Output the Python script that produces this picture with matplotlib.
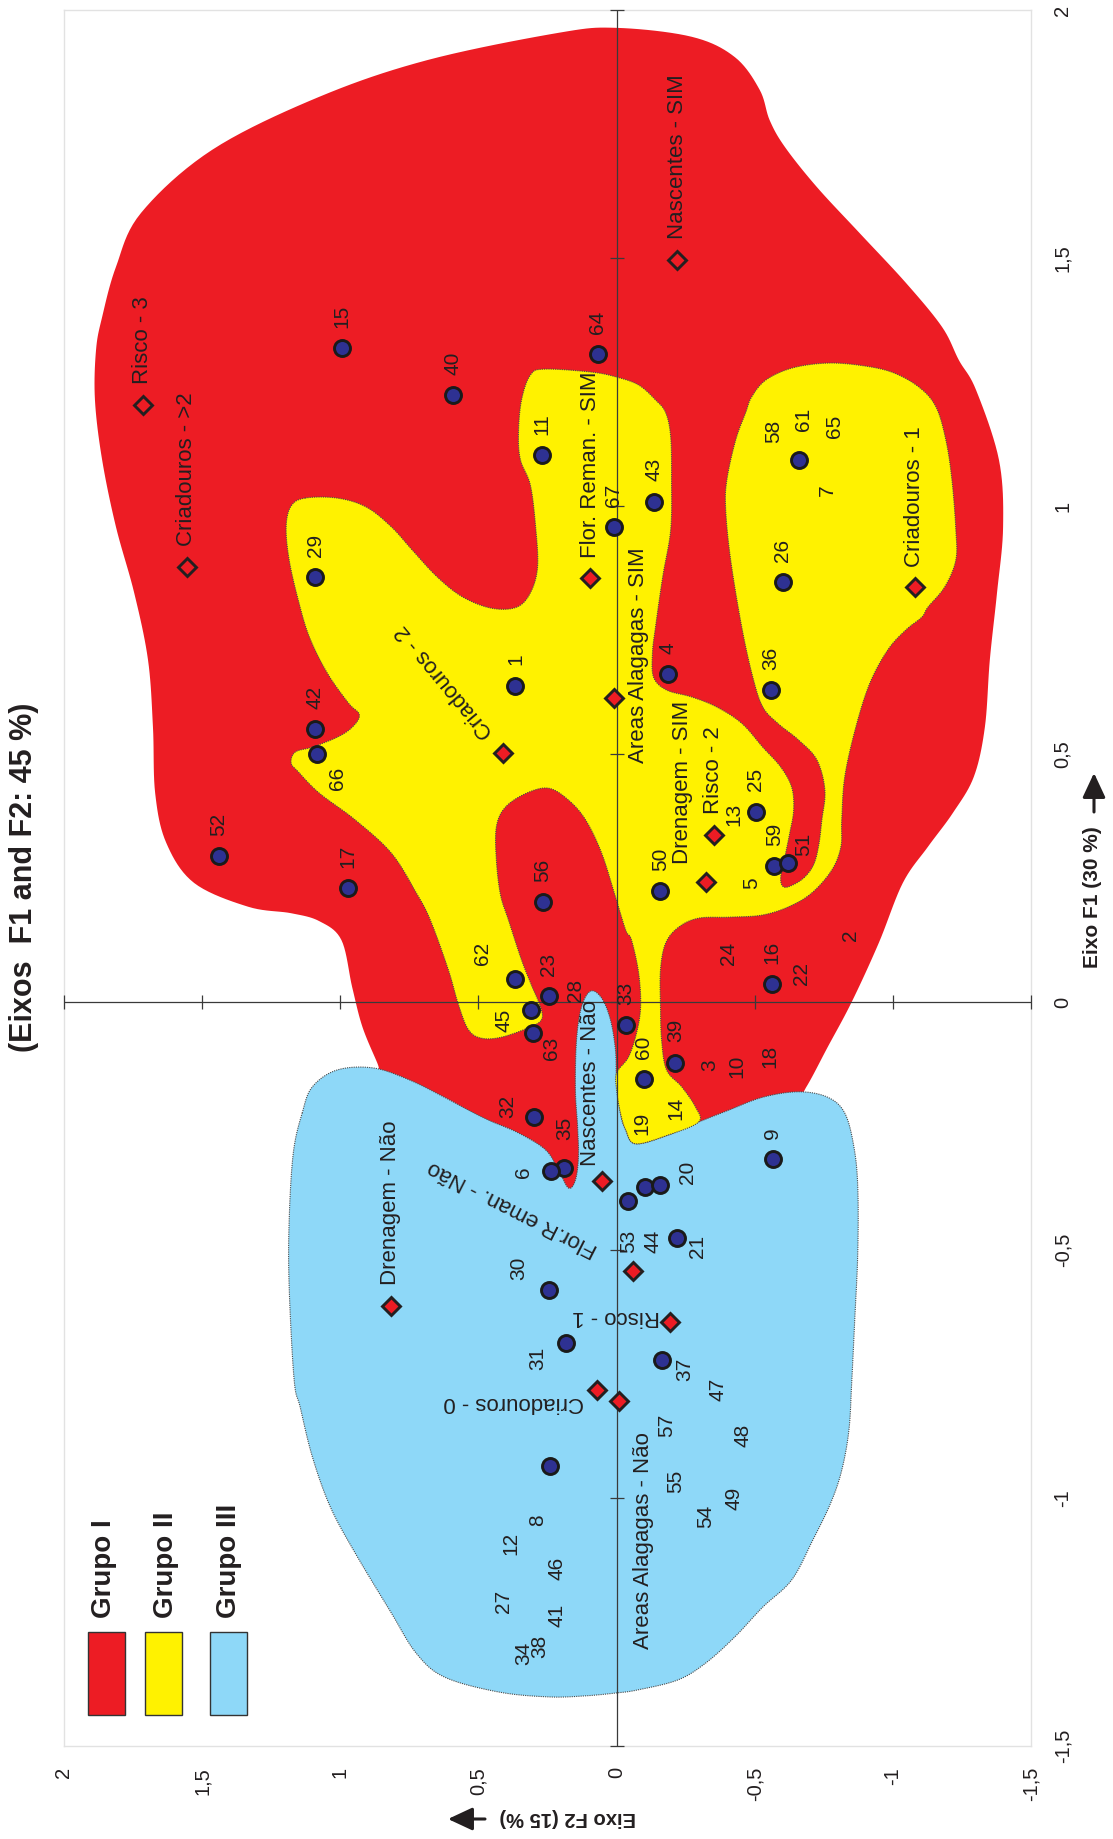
import numpy as np
import matplotlib
matplotlib.use("Agg")
import matplotlib.pyplot as plt
from matplotlib.patches import Rectangle

plt.rcParams["font.family"] = ["Liberation Sans", "DejaVu Sans"]

# axis ticks
f2_ticks = [2, 1.5, 1, 0.5, 0, -0.5, -1, -1.5]
f2_labels = ["2", "1,5", "1", "0,5", "0", "-0,5", "-1", "-1,5"]
f1_ticks = [2, 1.5, 1, 0.5, 0, -0.5, -1, -1.5]
f1_labels = ["2", "1,5", "1", "0,5", "0", "-0,5", "-1", "-1,5"]

# observations (blue circles)
obs_ids = ["15", "40", "11", "64", "61", "29", "42", "66", "1", "52", "17", "56",
           "67", "43", "4", "36", "26", "25", "59", "51", "50", "62", "23", "45",
           "63", "33", "60", "39", "16", "32", "35", "6", "9", "53", "44", "20",
           "21", "30", "31", "37", ""]
obs_f2 = [0.994, 0.593, 0.270, 0.068, -0.659, 1.090, 1.090, 1.084, 0.366, 1.439,
          0.971, 0.268, 0.011, -0.134, -0.187, -0.558, -0.601, -0.504, -0.571,
          -0.620, -0.158, 0.367, 0.246, 0.311, 0.303, -0.035, -0.098, -0.213,
          -0.563, 0.298, 0.189, 0.238, -0.565, -0.043, -0.104, -0.158, -0.218,
          0.246, 0.184, -0.164, 0.240]
obs_f1 = [1.318, 1.224, 1.103, 1.306, 1.093, 0.856, 0.550, 0.501, 0.638, 0.294,
          0.229, 0.202, 0.958, 1.009, 0.661, 0.629, 0.846, 0.384, 0.274, 0.281,
          0.224, 0.046, 0.012, -0.016, -0.062, -0.046, -0.156, -0.122, 0.036,
          -0.231, -0.335, -0.340, -0.317, -0.401, -0.372, -0.368, -0.476, -0.581,
          -0.688, -0.722, -0.935]

# observations sharing a marker with another one: only the number is shown
extra_ids = ["58", "65", "7", "13", "5", "24", "22", "2", "28", "3", "10", "18",
             "19", "14", "47", "57", "55", "48", "49", "54", "46", "41", "8",
             "12", "27", "34", "38"]
extra_f2 = [-0.569, -0.790, -0.762, -0.424, -0.490, -0.406, -0.671, -0.847, 0.150,
            -0.339, -0.437, -0.556, -0.092, -0.213, -0.366, -0.181, -0.213,
            -0.459, -0.426, -0.323, 0.214, 0.214, 0.285, 0.382, 0.408, 0.337,
            0.279]
extra_f1 = [1.150, 1.160, 1.032, 0.379, 0.239, 0.098, 0.058, 0.135, 0.024, -0.127,
            -0.130, -0.110, -0.245, -0.214, -0.782, -0.853, -0.967, -0.873,
            -1.001, -1.038, -1.142, -1.236, -1.044, -1.091, -1.209, -1.313,
            -1.300]

# variable modalities (diamonds)
mod_names = ["Risco - 3", "Criadouros - >2", "Nascentes - SIM", "Flor. Reman. - SIM",
             "Areas Alagagas - SIM", "Criadouros - 2", "Risco - 2", "Drenagem - SIM",
             "Criadouros - 1", "Drenagem - Não", "Nascentes - Não",
             "Flor.R eman. - Não", "Risco - 1", "Criadouros - 0",
             "Areas Alagagas - Não"]
mod_f2 = [1.715, 1.556, -0.220, 0.095, 0.009, 0.412, -0.351, -0.325, -1.080, 0.818,
          0.053, -0.059, -0.195, 0.071, -0.010]
mod_f1 = [1.204, 0.878, 1.496, 0.854, 0.612, 0.503, 0.337, 0.241, 0.836, -0.613,
          -0.360, -0.542, -0.646, -0.782, -0.804]
mod_hollow = [True, True, True] + [False] * 12

# group outlines
red_f2 = [0, -0.272, -0.428, -0.518, -0.554, -0.609, -0.725, -0.880, -1.047, -1.178,
          -1.239, -1.301, -1.384, -1.399, -1.377, -1.351, -1.333, -1.293, -1.217,
          -1.127, -1.036, -0.949, -0.851, -0.764, -0.685, -0.623, -0.297, -0.080,
          0.065, 0.210, 0.428, 0.717, 0.844, 0.866, 0.920, 0.957, 0.996, 1.076,
          1.178, 1.333, 1.529, 1.630, 1.670, 1.678, 1.696, 1.746, 1.812, 1.862,
          1.888, 1.884, 1.862, 1.812, 1.721, 1.464, 1.076, 0.685, 0.210]
red_f1 = [1.964, 1.946, 1.905, 1.839, 1.778, 1.724, 1.643, 1.550, 1.450, 1.361,
          1.294, 1.234, 1.093, 0.958, 0.825, 0.690, 0.554, 0.454, 0.381, 0.313,
          0.240, 0.119, 0.000, -0.091, -0.173, -0.218, -0.278, -0.329, -0.409,
          -0.399, -0.339, -0.238, -0.153, -0.123, -0.050, 0.030, 0.125, 0.163,
          0.179, 0.192, 0.240, 0.321, 0.421, 0.554, 0.690, 0.825, 0.958, 1.093,
          1.214, 1.315, 1.381, 1.482, 1.591, 1.718, 1.825, 1.899, 1.954]

yellow_f2 = [1.127, 1.011, 0.906, 0.815, 0.739, 0.649, 0.558, 0.453, 0.362, 0.312,
             0.286, 0.293, 0.312, 0.348, 0.355, 0.344, 0.312, 0.261, 0.091, 0.0,
             -0.080, -0.141, -0.178, -0.196, -0.199, -0.196, -0.167, -0.141, -0.130, -0.134,
             -0.181, -0.272, -0.362, -0.453, -0.529, -0.594, -0.634, -0.641, -0.627, -0.609,
             -0.594, -0.605, -0.638, -0.681, -0.714, -0.732, -0.743, -0.754, -0.725, -0.659,
             -0.583, -0.529, -0.493, -0.453, -0.413, -0.395, -0.399, -0.431, -0.467, -0.489,
             -0.540, -0.634, -0.757, -0.877, -0.996, -1.094, -1.156, -1.192, -1.214, -1.228,
             -1.228, -1.188, -1.127, -1.105, -1.047, -0.982, -0.917, -0.866, -0.826, -0.815,
             -0.812, -0.779, -0.707, -0.623, -0.525, -0.406, -0.297, -0.225, -0.178, -0.159,
             -0.159, -0.163, -0.181, -0.236, -0.286, -0.297, -0.188, -0.069, -0.033, -0.014,
             0.0, 0.0, -0.043, -0.072, -0.087, -0.080, -0.054, -0.033, 0.004, 0.054,
             0.112, 0.174, 0.246, 0.326, 0.402, 0.435, 0.435, 0.420, 0.391, 0.344,
             0.308, 0.275, 0.272, 0.319, 0.417, 0.489, 0.536, 0.572, 0.609, 0.674,
             0.725, 0.815, 0.946, 1.076, 1.152, 1.178, 1.163, 1.101, 1.011, 0.957,
             0.931, 0.971, 1.047, 1.112, 1.152, 1.185, 1.196, 1.178]
yellow_f1 = [1.016, 1.016, 0.998, 0.958, 0.911, 0.857, 0.817, 0.794, 0.796, 0.825,
             0.877, 0.958, 1.042, 1.093, 1.147, 1.214, 1.264, 1.276, 1.270, 1.260,
             1.244, 1.214, 1.188, 1.139, 1.052, 0.952, 0.857, 0.756, 0.704, 0.655,
             0.629, 0.615, 0.595, 0.562, 0.514, 0.474, 0.433, 0.387, 0.341, 0.292,
             0.250, 0.232, 0.236, 0.252, 0.278, 0.317, 0.367, 0.427, 0.488, 0.528,
             0.562, 0.595, 0.655, 0.756, 0.891, 0.992, 1.052, 1.133, 1.188, 1.220,
             1.254, 1.278, 1.288, 1.284, 1.270, 1.240, 1.200, 1.133, 1.052, 0.952,
             0.891, 0.837, 0.796, 0.776, 0.750, 0.710, 0.643, 0.554, 0.454, 0.367,
             0.313, 0.266, 0.220, 0.192, 0.175, 0.171, 0.169, 0.151, 0.119, 0.065,
             -0.010, -0.077, -0.137, -0.171, -0.212, -0.242, -0.268, -0.286, -0.258, -0.224,
             -0.177, -0.143, -0.111, -0.063, -0.010, 0.058, 0.125, 0.145, 0.212, 0.300,
             0.367, 0.407, 0.431, 0.421, 0.393, 0.353, 0.286, 0.216, 0.165, 0.085,
             0.034, -0.010, -0.036, -0.052, -0.071, -0.073, -0.056, -0.006, 0.065, 0.165,
             0.220, 0.300, 0.367, 0.421, 0.464, 0.482, 0.504, 0.514, 0.534, 0.554,
             0.579, 0.603, 0.663, 0.736, 0.810, 0.891, 0.958, 1.000]

blue_f2 = [1.138, 1.101, 1.011, 0.880, 0.750, 0.623, 0.536, 0.464, 0.355, 0.257,
           0.210, 0.174, 0.149, 0.138, 0.141, 0.149, 0.145, 0.127, 0.094, 0.054,
           0.022, 0.004, 0.0, -0.014, -0.033, -0.069, -0.188, -0.297, -0.406, -0.529,
           -0.659, -0.764, -0.826, -0.859, -0.873, -0.873, -0.862, -0.851, -0.841, -0.815,
           -0.775, -0.710, -0.634, -0.529, -0.428, -0.322, -0.221, -0.076, 0.0, 0.116,
           0.246, 0.428, 0.623, 0.725, 0.815, 0.946, 1.036, 1.101, 1.145, 1.167,
           1.185, 1.185, 1.170]
blue_f1 = [-0.224, -0.171, -0.137, -0.133, -0.157, -0.192, -0.218, -0.238, -0.264, -0.298,
           -0.339, -0.375, -0.359, -0.313, -0.252, -0.177, -0.077, -0.010, 0.022, 0.008,
           -0.036, -0.097, -0.157, -0.224, -0.258, -0.286, -0.268, -0.242, -0.218, -0.192,
           -0.181, -0.192, -0.224, -0.292, -0.373, -0.506, -0.641, -0.768, -0.863, -0.944,
           -1.010, -1.085, -1.165, -1.220, -1.280, -1.333, -1.367, -1.387, -1.393, -1.399,
           -1.401, -1.391, -1.361, -1.313, -1.232, -1.111, -1.018, -0.917, -0.817, -0.762,
           -0.575, -0.440, -0.304]

group_names = ["Grupo I", "Grupo II", "Grupo III"]

RED = "#ED1C24"
YELLOW = "#FFF200"
BLUE = "#8ED8F8"
NAVY = "#2E3192"
INK = "#231F20"

# label placement that differs from "just above the marker" (offset points)
obs_label_shift = {
    "66": (14.4, -18), "62": (-23.8, 18.7), "45": (-19.4, -7.2), "63": (13.7, -11.5),
    "32": (-19.4, 7.2), "35": (0, 28.8), "6": (-19.4, -1.4), "20": (19.4, 8.6),
    "53": (0, -29.5), "44": (5.8, -39.6), "21": (15.1, -5.8), "30": (-21.6, 15.8),
    "31": (-20.2, -10.8), "37": (16.6, -6.5), "51": (11.5, 13), "61": (3.6, 28.8),
}
mod_label_shift = {
    "Areas Alagagas - SIM": (17.3, 31, 90),
    "Criadouros - 2": (-41.8, 51.1, 129.7),
    "Drenagem - SIM": (-17.3, 72, 90),
    "Nascentes - Não": (-8.4, 70.6, 90),
    "Flor.R eman. - Não": (-86.4, 45, 153),
    "Risco - 1": (-38.9, 4, 180),
    "Criadouros - 0": (-59.8, -9.4, 180),
    "Areas Alagagas - Não": (17.3, -100.8, 90),
}


def closed_spline(xs, ys, n=10):
    """Closed Catmull-Rom curve through the outline vertices."""
    p = np.column_stack([xs, ys])
    P = np.vstack([p[-1], p, p[0], p[1]])
    t = np.linspace(0, 1, n, endpoint=False)[:, None]
    segs = []
    for i in range(1, len(p) + 1):
        p0, p1, p2, p3 = P[i - 1], P[i], P[i + 1], P[i + 2]
        segs.append(0.5 * (2 * p1 + (p2 - p0) * t
                           + (2 * p0 - 5 * p1 + 4 * p2 - p3) * t ** 2
                           + (3 * p1 - p0 - 3 * p2 + p3) * t ** 3))
    return np.vstack(segs)


W, H = 1113, 1839
fig = plt.figure(figsize=(W / 100, H / 100), dpi=100)
ax = fig.add_axes([64 / W, 1 - 1746 / H, (1031 - 64) / W, (1746 - 10) / H])
ax.set_xlim(2, -1.5)
ax.set_ylim(-1.5, 2)

# group areas
red = closed_spline(red_f2, red_f1)
ax.fill(red[:, 0], red[:, 1], color=RED, lw=0, zorder=1)
blue = closed_spline(blue_f2, blue_f1)
ax.fill(blue[:, 0], blue[:, 1], facecolor=BLUE, edgecolor="#4a4a4a", lw=0.8,
        ls=(0, (1, 1)), zorder=2)
yel = closed_spline(yellow_f2, yellow_f1)
ax.fill(yel[:, 0], yel[:, 1], facecolor=YELLOW, edgecolor="#4a4a4a", lw=0.8,
        ls=(0, (1, 1)), zorder=3)

# axes through the origin with their tick marks
ax.axhline(0, color="#3a3a3a", lw=0.9, zorder=4)
ax.axvline(0, color="#3a3a3a", lw=0.9, zorder=4)
ax.plot(f2_ticks, np.zeros(len(f2_ticks)), ls="none", marker="|", ms=10, mew=0.9,
        color="#3a3a3a", zorder=4, clip_on=False)
ax.plot(np.zeros(len(f1_ticks)), f1_ticks, ls="none", marker="_", ms=10, mew=0.9,
        color="#3a3a3a", zorder=4, clip_on=False)

for s in ax.spines.values():
    s.set_color("#e2e2e2")
    s.set_linewidth(1)

ax.set_xticks(f2_ticks, f2_labels)
ax.tick_params(axis="x", length=0, pad=15, labelsize=14.5, labelrotation=90,
               labelcolor=INK)
ax.yaxis.tick_right()
ax.set_yticks(f1_ticks, f1_labels)
ax.tick_params(axis="y", length=0, pad=16, labelsize=14.5, labelrotation=90,
               labelcolor=INK)
for lbl in ax.get_yticklabels():
    lbl.set_va("center")

# observations
ax.plot(obs_f2, obs_f1, ls="none", marker="o", ms=11.5, mfc=NAVY, mec="#1a1a1a",
        mew=2.1, zorder=6)
for name, x, y in zip(obs_ids, obs_f2, obs_f1):
    if not name:
        continue
    if name in obs_label_shift:
        ax.annotate(name, (x, y), xytext=obs_label_shift[name], textcoords="offset points",
                    rotation=90, ha="center", va="center", fontsize=15, color=INK, zorder=7)
    else:
        ax.annotate(name, (x, y), xytext=(0, 14.5), textcoords="offset points",
                    rotation=90, ha="center", va="bottom", fontsize=15, color=INK, zorder=7)

for name, x, y in zip(extra_ids, extra_f2, extra_f1):
    ax.text(x, y, name, rotation=90, ha="center", va="center", fontsize=15,
            color=INK, zorder=7)

# modalities
for name, x, y, hollow in zip(mod_names, mod_f2, mod_f1, mod_hollow):
    ax.plot(x, y, ls="none", marker="D", ms=9.3, mew=2.1, mec=INK,
            mfc="none" if hollow else RED, zorder=6)
    if name in mod_label_shift:
        dx, dy, rot = mod_label_shift[name]
        ax.annotate(name, (x, y), xytext=(dx, dy), textcoords="offset points",
                    rotation=rot, rotation_mode="anchor" if rot not in (90, 180) else "default",
                    ha="center", va="center", fontsize=16, color=INK, zorder=7)
    else:
        ax.annotate(name, (x, y), xytext=(0, 15), textcoords="offset points",
                    rotation=90, ha="center", va="bottom", fontsize=16, color=INK, zorder=7)

# titles
fig.text(24 / W, 1 - 877 / H, "(Eixos  F1 and F2: 45 %)", rotation=90, ha="center",
         va="center", fontsize=22, fontweight="bold", color=INK)
fig.text(1093 / W, 1 - 897 / H, "Eixo F1 (30 %)", rotation=90, ha="center",
         va="center", fontsize=15, fontweight="bold", color=INK)
fig.text(568 / W, 1 - 1817 / H, "Eixo F2 (15 %)", rotation=180, ha="center",
         va="center", fontsize=14.5, fontweight="bold", color=INK)
arrow = dict(arrowstyle="-|>,head_length=0.75,head_width=0.35", lw=2.2, color=INK,
             shrinkA=0, shrinkB=0, mutation_scale=20)
ax.annotate("", xy=(1094 / W, 1 - 773 / H), xytext=(1094 / W, 1 - 812 / H),
            xycoords="figure fraction", textcoords="figure fraction",
            arrowprops=arrow, annotation_clip=False)
ax.annotate("", xy=(448 / W, 1 - 1819 / H), xytext=(485 / W, 1 - 1819 / H),
            xycoords="figure fraction", textcoords="figure fraction",
            arrowprops=arrow, annotation_clip=False)

# legend
for name, color, x0, lx in zip(group_names, [RED, YELLOW, BLUE],
                               [88, 145, 210], [104, 166, 229]):
    fig.add_artist(Rectangle((x0 / W, 1 - 1715 / H), 37 / W, 83 / H,
                             transform=fig.transFigure, facecolor=color,
                             edgecolor="#333333", lw=1))
    fig.text(lx / W, 1 - 1618 / H, name, rotation=90, ha="center", va="bottom",
             fontsize=20, fontweight="bold", color=INK)

fig.savefig("out.png", dpi=100)
